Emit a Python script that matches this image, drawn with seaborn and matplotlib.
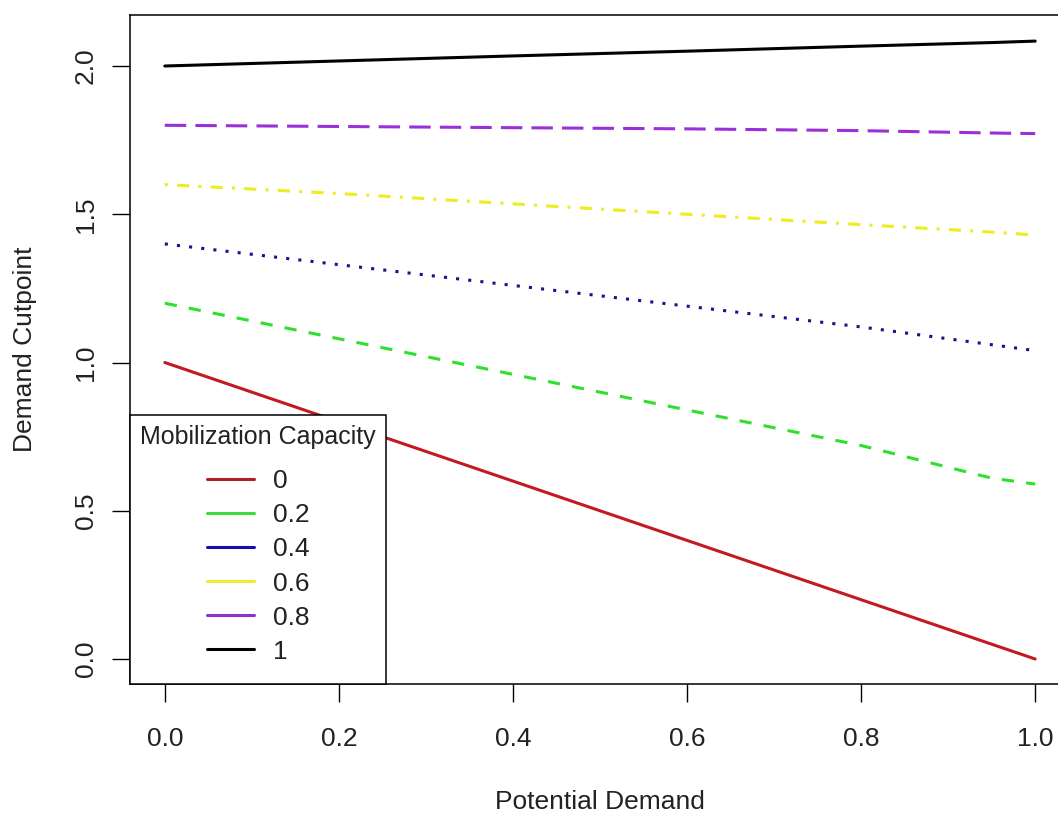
import matplotlib
matplotlib.use("Agg")
import matplotlib.pyplot as plt
import seaborn as sns
import pandas as pd

sns.set_theme(style="ticks")
plt.rcParams['font.family'] = ['Liberation Sans', 'DejaVu Sans']

# values
potential_demand = [0.0, 0.2, 0.4, 0.6, 0.8, 0.95, 1.0]
capacity_labels = ["0", "0.2", "0.4", "0.6", "0.8", "1"]
cut_0 = [1.0, 0.8, 0.6, 0.4, 0.2, 0.05, 0.0]
cut_02 = [1.2, 1.08, 0.96, 0.84, 0.72, 0.61, 0.59]
cut_04 = [1.4, 1.33, 1.26, 1.19, 1.12, 1.06, 1.04]
cut_06 = [1.6, 1.57, 1.535, 1.50, 1.465, 1.44, 1.43]
cut_08 = [1.8, 1.796, 1.792, 1.788, 1.782, 1.774, 1.772]
cut_1 = [2.0, 2.017, 2.034, 2.05, 2.067, 2.079, 2.084]

series = [cut_0, cut_02, cut_04, cut_06, cut_08, cut_1]
colors = ["#C21A22", "#2EE02E", "#14148C", "#EDED20", "#9B30D9", "#000000"]
legend_colors = ["#B01E26", "#3CDC3C", "#1010B4", "#EDED30", "#9030D0", "#000000"]
dashes = [(None, None), (4, 4), (1, 3), (1, 3, 4, 3), (7, 3), (None, None)]

rows = []
for lab, ys in zip(capacity_labels, series):
    for x, y in zip(potential_demand, ys):
        rows.append({"Potential Demand": x, "Demand Cutpoint": y, "cap": lab})
df = pd.DataFrame(rows)

fig = plt.figure(figsize=(10.58, 8.19), dpi=100)
ax = fig.add_axes([130 / 1058, 1 - 684 / 819, 940 / 1058, 669 / 819])

for lab, col, d in zip(capacity_labels, colors, dashes):
    sub = df[df["cap"] == lab]
    sns.lineplot(data=sub, x="Potential Demand", y="Demand Cutpoint", ax=ax,
                 color=col, linewidth=2.2, legend=False)
    line = ax.lines[-1]
    if d[0] is not None:
        line.set_dashes(d)

ax.set_xlim(-0.04, 1.04)
ax.set_ylim(-0.0843, 2.172)
ax.set_xticks([0.0, 0.2, 0.4, 0.6, 0.8, 1.0])
ax.set_xticklabels(["0.0", "0.2", "0.4", "0.6", "0.8", "1.0"])
ax.set_yticks([0.0, 0.5, 1.0, 1.5, 2.0])
ax.set_yticklabels(["0.0", "0.5", "1.0", "1.5", "2.0"], rotation=90, va="center")
ax.tick_params(axis="both", direction="out", length=13, width=1.0, color="black",
               labelsize=19, labelcolor="#222222")
ax.tick_params(axis="x", pad=18)
ax.tick_params(axis="y", pad=10)
for s in ax.spines.values():
    s.set_visible(True)
    s.set_color("black")
    s.set_linewidth(1.1)

ax.set_xlabel("Potential Demand", fontsize=19, color="#222222")
ax.set_ylabel("Demand Cutpoint", fontsize=19, color="#222222")
ax.xaxis.set_label_coords(0.5, -0.176)
ax.yaxis.set_label_coords(-0.112, 0.5)
ax.xaxis.label.set_va("center")
ax.yaxis.label.set_va("center")

handles = [plt.Line2D([], [], color=c, linewidth=2.2) for c in legend_colors]
leg = ax.legend(handles, capacity_labels, title="Mobilization Capacity",
                loc="lower left", bbox_to_anchor=(0, 0), borderaxespad=0,
                fontsize=19, title_fontsize=18, frameon=True, fancybox=False,
                handlelength=1.8, handletextpad=0.7, labelspacing=0.38,
                borderpad=0.38)
# extra vertical room around the entries, like R's legend box
leg._legend_handle_box.pad = 7.5
leg.get_frame().set_edgecolor("black")
leg.get_frame().set_linewidth(1.1)
leg.get_frame().set_alpha(1)
for t in leg.get_texts():
    t.set_color("#222222")
leg.get_title().set_color("#222222")

fig.savefig("out.png", dpi=100, facecolor="white")
